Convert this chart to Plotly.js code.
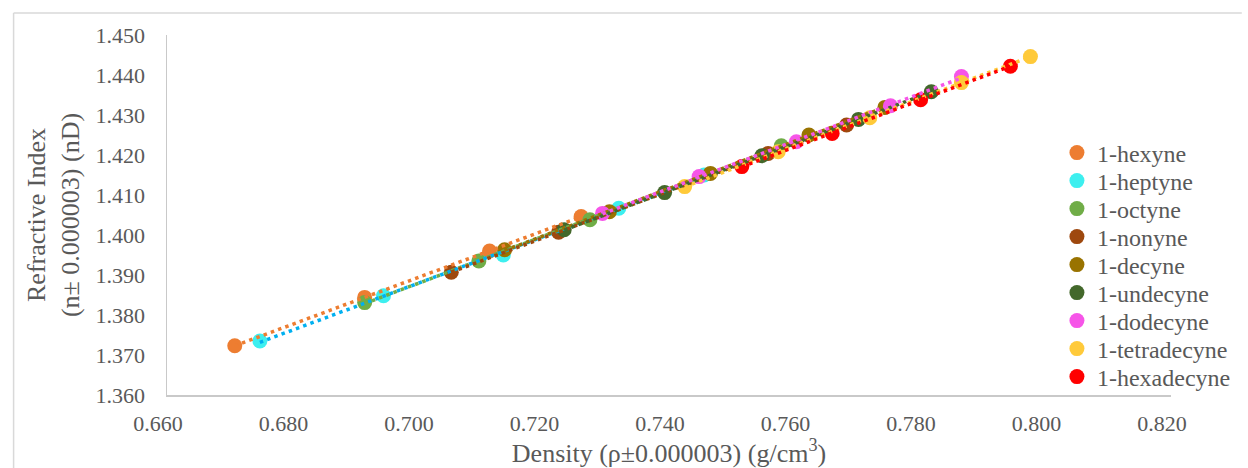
<!DOCTYPE html>
<html><head><meta charset="utf-8">
<script src="https://cdn.plot.ly/plotly-3.0.1.min.js"></script>
<style>html,body{margin:0;padding:0;background:#fff}#chart{width:1248px;height:468px}</style>
</head><body><div id="chart"></div>
<script>
// ---- data ----
const seriesNames = ['1-hexyne','1-heptyne','1-octyne','1-nonyne','1-decyne','1-undecyne','1-dodecyne','1-tetradecyne','1-hexadecyne'];

const density_hexyne      = [0.6708, 0.6915, 0.7114, 0.7260];
const refIndex_hexyne     = [1.3723, 1.3844, 1.3960, 1.4046];
const density_heptyne     = [0.6748, 0.6945, 0.7136, 0.7320, 0.7456];
const refIndex_heptyne    = [1.3735, 1.3848, 1.3950, 1.4067, 1.4150];
const density_octyne      = [0.6915, 0.7097, 0.7274, 0.7579];
const refIndex_octyne     = [1.3831, 1.3935, 1.4038, 1.4223];
const density_nonyne      = [0.7053, 0.7224, 0.7558, 0.7683];
const refIndex_nonyne     = [1.3907, 1.4007, 1.4204, 1.4275];
const density_decyne      = [0.7138, 0.7305, 0.7466, 0.7623, 0.7744];
const refIndex_decyne     = [1.3963, 1.4058, 1.4154, 1.4250, 1.4319];
const density_undecyne    = [0.7233, 0.7393, 0.7548, 0.7702, 0.7818];
const refIndex_undecyne   = [1.4013, 1.4106, 1.4198, 1.4289, 1.4358];
const density_dodecyne    = [0.7294, 0.7448, 0.7603, 0.7753, 0.7866];
const refIndex_dodecyne   = [1.4054, 1.4146, 1.4233, 1.4323, 1.4396];
const density_tetradecyne = [0.7425, 0.7574, 0.7720, 0.7866, 0.7976];
const refIndex_tetradecyne= [1.4121, 1.4208, 1.4293, 1.4381, 1.4446];
const density_hexadecyne  = [0.7516, 0.7660, 0.7801, 0.7944];
const refIndex_hexadecyne = [1.4171, 1.4254, 1.4338, 1.4422];

const xTickVals = [0.66, 0.68, 0.70, 0.72, 0.74, 0.76, 0.78, 0.80, 0.82];
const xTickText = ['0.660','0.680','0.700','0.720','0.740','0.760','0.780','0.800','0.820'];
const yTickVals = [1.36, 1.37, 1.38, 1.39, 1.40, 1.41, 1.42, 1.43, 1.44, 1.45];
const yTickText = ['1.360','1.370','1.380','1.390','1.400','1.410','1.420','1.430','1.440','1.450'];

// ---- styles ----
const markerColors = ['#ED7D31','#3DEFEF','#70AD47','#9E480E','#997300','#43682B','#F655E8','#FFCA3A','#FF0000'];
const lineColors   = ['#ED7D31','#00B0F0','#70AD47','#9E480E','#997300','#43682B','#F655E8','#FFCA3A','#FF0000'];

const densities = [density_hexyne, density_heptyne, density_octyne, density_nonyne, density_decyne, density_undecyne, density_dodecyne, density_tetradecyne, density_hexadecyne];
const indices   = [refIndex_hexyne, refIndex_heptyne, refIndex_octyne, refIndex_nonyne, refIndex_decyne, refIndex_undecyne, refIndex_dodecyne, refIndex_tetradecyne, refIndex_hexadecyne];

function linFit(x, y) {
  const n = x.length;
  const mx = x.reduce((s,v)=>s+v,0)/n, my = y.reduce((s,v)=>s+v,0)/n;
  let sxy = 0, sxx = 0;
  for (let i=0;i<n;i++){ sxy += (x[i]-mx)*(y[i]-my); sxx += (x[i]-mx)*(x[i]-mx); }
  const b = sxy/sxx; return {a: my - b*mx, b};
}

const legendId = i => (i === 0 ? 'legend' : 'legend' + (i + 1));

const traces = [];
seriesNames.forEach((name, i) => {
  traces.push({
    type: 'scatter', mode: 'markers', name: name, legend: legendId(i),
    x: densities[i], y: indices[i],
    marker: {color: markerColors[i], size: 15, line: {width: 0}}
  });
});
seriesNames.forEach((name, i) => {
  const f = linFit(densities[i], indices[i]);
  const xs = [Math.min(...densities[i]), Math.max(...densities[i])];
  traces.push({
    type: 'scatter', mode: 'lines', showlegend: false, hoverinfo: 'skip',
    x: xs, y: xs.map(v => f.a + f.b*v),
    line: {color: lineColors[i], width: 3.5, dash: '3.5px,4.2px'}
  });
});

const L = 167, R = 1188, T = 35, B = 395;
const px2x = p => (p - L)/(R - L);
const py2y = p => (B - p)/(B - T);

const layout = {
  width: 1248, height: 468,
  margin: {l: L, r: 1248 - R, t: T, b: 468 - B, pad: 0},
  paper_bgcolor: '#ffffff', plot_bgcolor: '#ffffff',
  font: {family: '"Liberation Serif", "Times New Roman", serif', color: '#595959', size: 22},
  showlegend: true,
  xaxis: {
    range: [0.66, 0.82], tickvals: xTickVals, ticktext: xTickText,
    showgrid: false, zeroline: false, showline: true, linecolor: '#C9C9C9', linewidth: 1.5,
    ticks: '', ticklabelstandoff: 8, ticklabelshift: -9,
    tickfont: {size: 22, color: '#595959'},
    title: {text: 'Density (ρ±0.000003) (g/cm<sup>3</sup>)', font: {size: 26, color: '#595959'}, standoff: 6}
  },
  yaxis: {
    range: [1.36, 1.45], tickvals: yTickVals, ticktext: yTickText,
    showgrid: false, zeroline: false, showline: true, linecolor: '#C9C9C9', linewidth: 1.5,
    ticks: '', ticklabelstandoff: 16,
    tickfont: {size: 22, color: '#595959'},
    title: {text: 'Refractive Index<br>(n± 0.000003) (nD)', font: {size: 26, color: '#595959'}, standoff: 8}
  },
  shapes: [
    {type: 'line', xref: 'paper', yref: 'paper', x0: px2x(11), x1: px2x(11), y0: py2y(480), y1: py2y(13), line: {color: '#D9D9D9', width: 1.5}},
    {type: 'line', xref: 'paper', yref: 'paper', x0: px2x(11), x1: px2x(1260), y0: py2y(13), y1: py2y(13), line: {color: '#D9D9D9', width: 1.5}}
  ]
};

// one single-entry legend per series so the entries can sit 28 px apart like the reference
seriesNames.forEach((name, i) => {
  layout[legendId(i)] = {
    x: px2x(1072), xanchor: 'left', y: py2y(153 + 28 * i), yanchor: 'middle',
    bgcolor: 'rgba(0,0,0,0)', borderwidth: 0,
    font: {size: 24, color: '#595959'}
  };
});

Plotly.newPlot('chart', traces, layout, {displayModeBar: false, staticPlot: true});
</script>
</body></html>
